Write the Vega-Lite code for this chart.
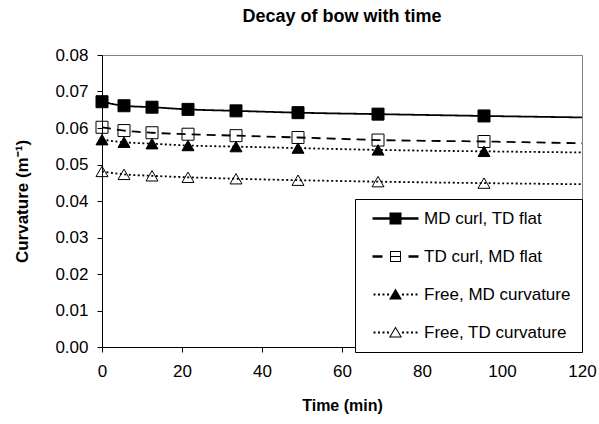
{
  "$schema": "https://vega.github.io/schema/vega-lite/v6.json",
  "width": 480,
  "height": 292,
  "autosize": {"type": "none"},
  "padding": {"left": 102, "top": 55, "right": 17, "bottom": 77},
  "background": "white",
  "title": {"text": "Decay of bow with time", "fontSize": 18, "font": "Liberation Sans", "fontWeight": "bold", "color": "black", "anchor": "middle", "offset": 20},
  "config": {
    "font": "Liberation Sans",
    "view": {"stroke": "#808080", "strokeWidth": 1},
    "axis": {"domainColor": "black", "tickColor": "black", "grid": false, "labelColor": "black", "titleFontSize": 16, "titleColor": "black", "titleFontWeight": "bold", "tickSize": 5, "domainWidth": 1, "labelFont": "Liberation Sans", "titleFont": "Liberation Sans", "labelOverlap": false}
  },
  "data": {"values": [
    {"s": "MD curl, TD flat", "t": 0, "c": 0.0672, "m": true},
    {"s": "MD curl, TD flat", "t": 5.5, "c": 0.0661, "m": true},
    {"s": "MD curl, TD flat", "t": 12.5, "c": 0.0657, "m": true},
    {"s": "MD curl, TD flat", "t": 21.5, "c": 0.0651, "m": true},
    {"s": "MD curl, TD flat", "t": 33.5, "c": 0.0647, "m": true},
    {"s": "MD curl, TD flat", "t": 49, "c": 0.0642, "m": true},
    {"s": "MD curl, TD flat", "t": 69, "c": 0.0638, "m": true},
    {"s": "MD curl, TD flat", "t": 95.5, "c": 0.0633, "m": true},
    {"s": "MD curl, TD flat", "t": 120, "c": 0.0629, "m": false},
    {"s": "TD curl, MD flat", "t": 0, "c": 0.0602, "m": true},
    {"s": "TD curl, MD flat", "t": 5.5, "c": 0.0593, "m": true},
    {"s": "TD curl, MD flat", "t": 12.5, "c": 0.0587, "m": true},
    {"s": "TD curl, MD flat", "t": 21.5, "c": 0.0583, "m": true},
    {"s": "TD curl, MD flat", "t": 33.5, "c": 0.0579, "m": true},
    {"s": "TD curl, MD flat", "t": 49, "c": 0.0574, "m": true},
    {"s": "TD curl, MD flat", "t": 69, "c": 0.0567, "m": true},
    {"s": "TD curl, MD flat", "t": 95.5, "c": 0.0563, "m": true},
    {"s": "TD curl, MD flat", "t": 120, "c": 0.0558, "m": false},
    {"s": "Free, MD curvature", "t": 0, "c": 0.0568, "m": true},
    {"s": "Free, MD curvature", "t": 5.5, "c": 0.0561, "m": true},
    {"s": "Free, MD curvature", "t": 12.5, "c": 0.0557, "m": true},
    {"s": "Free, MD curvature", "t": 21.5, "c": 0.0552, "m": true},
    {"s": "Free, MD curvature", "t": 33.5, "c": 0.0549, "m": true},
    {"s": "Free, MD curvature", "t": 49, "c": 0.0545, "m": true},
    {"s": "Free, MD curvature", "t": 69, "c": 0.0540, "m": true},
    {"s": "Free, MD curvature", "t": 95.5, "c": 0.0536, "m": true},
    {"s": "Free, MD curvature", "t": 120, "c": 0.0533, "m": false},
    {"s": "Free, TD curvature", "t": 0, "c": 0.0481, "m": true},
    {"s": "Free, TD curvature", "t": 5.5, "c": 0.0473, "m": true},
    {"s": "Free, TD curvature", "t": 12.5, "c": 0.0469, "m": true},
    {"s": "Free, TD curvature", "t": 21.5, "c": 0.0465, "m": true},
    {"s": "Free, TD curvature", "t": 33.5, "c": 0.0461, "m": true},
    {"s": "Free, TD curvature", "t": 49, "c": 0.0457, "m": true},
    {"s": "Free, TD curvature", "t": 69, "c": 0.0453, "m": true},
    {"s": "Free, TD curvature", "t": 95.5, "c": 0.0449, "m": true},
    {"s": "Free, TD curvature", "t": 120, "c": 0.0446, "m": false}
  ]},
  "layer": [
    {
      "mark": {"type": "line", "color": "black", "interpolate": "monotone"},
      "encoding": {
        "x": {"field": "t", "type": "quantitative", "scale": {"domain": [0, 120]},
              "axis": {"title": "Time (min)", "values": [0, 20, 40, 60, 80, 100, 120], "tickCount": 10, "labelFontSize": 17, "labelPadding": 11, "titlePadding": 18, "labelFlush": false}},
        "y": {"field": "c", "type": "quantitative", "scale": {"domain": [0, 0.08]},
              "axis": {"title": "Curvature (m⁻¹)", "values": [0, 0.01, 0.02, 0.03, 0.04, 0.05, 0.06, 0.07, 0.08], "tickCount": 12, "format": ".2f", "labelFontSize": 17, "labelPadding": 9, "titleFontSize": 17, "titlePadding": 23, "labelOverlap": false}},
        "strokeDash": {"field": "s", "type": "nominal",
                       "scale": {"domain": ["Free, TD curvature", "Free, MD curvature", "TD curl, MD flat", "MD curl, TD flat"], "range": [[2, 2.5], [2, 2.5], [9, 6], [1, 0]]},
                       "legend": null},
        "strokeWidth": {"field": "s", "type": "nominal",
                        "scale": {"domain": ["Free, TD curvature", "Free, MD curvature", "TD curl, MD flat", "MD curl, TD flat"], "range": [1.8, 1.8, 2.4, 2.4]},
                        "legend": null}
      }
    },
    {
      "transform": [{"filter": {"field": "m", "equal": true}}, {"filter": {"field": "s", "oneOf": ["MD curl, TD flat", "TD curl, MD flat"]}}],
      "mark": {"type": "point", "shape": "square", "filled": true, "stroke": "black", "strokeWidth": 1, "opacity": 1, "size": 144},
      "encoding": {
        "x": {"field": "t", "type": "quantitative"},
        "y": {"field": "c", "type": "quantitative"},
        "fill": {"field": "s", "type": "nominal",
                 "scale": {"domain": ["Free, TD curvature", "Free, MD curvature", "TD curl, MD flat", "MD curl, TD flat"], "range": ["transparent", "black", "transparent", "black"]},
                 "legend": null}
      }
    },
    {
      "transform": [{"filter": {"field": "m", "equal": true}}, {"filter": {"field": "s", "oneOf": ["Free, MD curvature", "Free, TD curvature"]}}],
      "mark": {"type": "point", "shape": "triangle-up", "filled": true, "stroke": "black", "strokeWidth": 1, "opacity": 1, "size": 144},
      "encoding": {
        "x": {"field": "t", "type": "quantitative"},
        "y": {"field": "c", "type": "quantitative"},
        "fill": {"field": "s", "type": "nominal",
                 "scale": {"domain": ["Free, TD curvature", "Free, MD curvature", "TD curl, MD flat", "MD curl, TD flat"], "range": ["transparent", "black", "transparent", "black"]},
                 "legend": null}
      }
    },
    {
      "transform": [{"filter": "false"}],
      "mark": {"type": "point", "filled": true, "color": "black", "opacity": 1, "size": 4, "strokeWidth": 0},
      "encoding": {
        "x": {"field": "t", "type": "quantitative"},
        "y": {"field": "c", "type": "quantitative"},
        "shape": {"field": "s", "type": "nominal",
                  "scale": {"domain": ["MD curl, TD flat", "TD curl, MD flat", "Free, MD curvature", "Free, TD curvature"],
                            "range": [
                              "M-23,-1.2H23V1.2H-23ZM-6,-6H6V6H-6Z",
                              "M-23,-1.2H-13V1.2H-23ZM13,-1.2H23V1.2H13ZM-5.5,-5.5H5.5V5.5H-5.5ZM-4.5,-4.5V4.5H4.5V-4.5ZM-4.5,-0.5H4.5V0.5H-4.5Z",
                              "M-22,-1h2v2h-2ZM-17.5,-1h2v2h-2ZM-13,-1h2v2h-2ZM-8.5,-1h2v2h-2ZM6.5,-1h2v2h-2ZM11,-1h2v2h-2ZM15.5,-1h2v2h-2ZM20,-1h2v2h-2ZM0,-6L6.5,5L-6.5,5Z",
                              "M-22,-1h2v2h-2ZM-17.5,-1h2v2h-2ZM-13,-1h2v2h-2ZM-8.5,-1h2v2h-2ZM6.5,-1h2v2h-2ZM11,-1h2v2h-2ZM15.5,-1h2v2h-2ZM20,-1h2v2h-2ZM0,-6L6.5,5L-6.5,5ZM0,-4.03L-4.75,4L4.75,4Z"
                            ]},
                  "legend": {
                    "title": null, "orient": "none", "legendX": 253, "legendY": 144,
                    "padding": 11, "rowPadding": 20, "symbolSize": 4, "symbolOffset": 21, "labelOffset": 20,
                    "symbolFillColor": "black", "symbolStrokeWidth": 0, "symbolOpacity": 1,
                    "labelFontSize": 17, "labelColor": "black", "labelFont": "Liberation Sans", "labelLimit": 300,
                    "strokeColor": "black", "fillColor": "white"
                  }}
      }
    }
  ]
}
